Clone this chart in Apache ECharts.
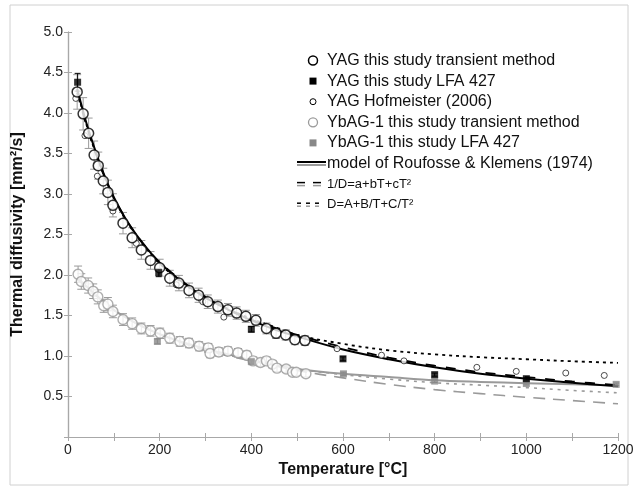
<!DOCTYPE html>
<html>
<head>
<meta charset="utf-8">
<script src="https://cdn.jsdelivr.net/npm/echarts@6/dist/echarts.min.js"></script>
<style>
  html, body { margin: 0; padding: 0; background: #fff; }
  #chart { width: 637px; height: 487px; }
</style>
</head>
<body>
<div id="chart"></div>
<script>
// measured points [T in °C, D in mm²/s]
const yagTransient = [[20,4.26],[33,3.99],[45,3.75],[57,3.48],[66,3.35],[77,3.16],[87,3.02],[98,2.86],[120,2.64],[140,2.46],[160,2.31],[180,2.18],[200,2.09],[222,1.96],[242,1.90],[264,1.81],[285,1.75],[305,1.67],[327,1.61],[349,1.57],[368,1.53],[388,1.49],[410,1.44],[433,1.34],[454,1.28],[475,1.26],[495,1.20],[517,1.19]];
const yagLfa = [[21,4.38],[198,2.03],[400,1.33],[600,0.965],[800,0.77],[1000,0.72]];
const yagHofmeister = [[17,4.18],[37,3.72],[64,3.22],[98,2.79],[149,2.39],[236,1.88],[294,1.67],[340,1.48],[587,1.09],[684,1.01],[733,0.94],[892,0.86],[978,0.81],[1086,0.79],[1170,0.76]];
const ybagTransient = [[22,2.01],[29,1.92],[44,1.87],[55,1.80],[65,1.73],[78,1.62],[87,1.64],[98,1.55],[120,1.45],[140,1.40],[160,1.34],[180,1.31],[201,1.28],[222,1.22],[244,1.18],[264,1.16],[286,1.12],[306,1.10],[310,1.03],[329,1.05],[349,1.06],[371,1.04],[390,1.01],[404,0.94],[420,0.92],[433,0.94],[446,0.90],[456,0.85],[476,0.84],[490,0.80],[498,0.80],[519,0.78]];
const ybagLfa = [[195,1.18],[400,0.93],[601,0.78],[800,0.69],[1000,0.66],[1196,0.65]];
const transientErr = 0.05;  // relative error of the transient method
const lfaErr = 0.025;

const fitT = [20,40,60,80,100,125,150,175,200,250,300,350,400,450,500,600,700,800,900,1000,1100,1200];
const modelYag = [4.30,3.88,3.53,3.22,2.96,2.70,2.49,2.31,2.15,1.91,1.72,1.57,1.44,1.33,1.24,1.08,0.96,0.86,0.78,0.72,0.67,0.625];
const quadYag  = [4.25,3.85,3.51,3.21,2.96,2.70,2.49,2.31,2.16,1.92,1.73,1.58,1.45,1.35,1.26,1.11,0.98,0.88,0.80,0.74,0.685,0.64];
const invYag   = [4.28,3.86,3.51,3.21,2.95,2.69,2.48,2.30,2.14,1.90,1.72,1.58,1.46,1.36,1.26,1.15,1.07,1.02,0.985,0.96,0.935,0.915];
const modelYbag = [1.97,1.86,1.76,1.66,1.57,1.48,1.40,1.33,1.27,1.17,1.09,1.02,0.95,0.89,0.84,0.78,0.74,0.70,0.68,0.665,0.65,0.64];
const quadYbag  = [1.95,1.85,1.75,1.66,1.57,1.48,1.40,1.33,1.27,1.16,1.07,1.00,0.94,0.88,0.82,0.73,0.65,0.585,0.535,0.49,0.45,0.41];
const invYbag   = [1.96,1.85,1.75,1.66,1.57,1.48,1.40,1.33,1.27,1.17,1.08,1.01,0.95,0.89,0.84,0.77,0.715,0.67,0.64,0.61,0.575,0.545];

const legendLabels = ['YAG this study transient method', 'YAG this study LFA 427', 'YAG Hofmeister (2006)',
  'YbAG-1 this study transient method', 'YbAG-1 this study LFA 427', 'model of Roufosse & Klemens (1974)',
  '1/D=a+bT+cT²', 'D=A+B/T+C/T²'];

const FONT = '"Liberation Sans", Arial, sans-serif';
const BLACK = '#000';
const GRAY = '#9a9a9a';

function pairs(ys) {
  return fitT.map(function (t, i) { return [t, ys[i]]; });
}

function withErr(pts, frac) {
  return pts.map(function (p) { return [p[0], p[1] * (1 - frac), p[1] * (1 + frac)]; });
}

function errorBars(color, cap) {
  return function (params, api) {
    const lo = api.coord([api.value(0), api.value(1)]);
    const hi = api.coord([api.value(0), api.value(2)]);
    const st = { stroke: color, lineWidth: 1 };
    return {
      type: 'group',
      children: [
        { type: 'line', shape: { x1: lo[0], y1: lo[1], x2: hi[0], y2: hi[1] }, style: st },
        { type: 'line', shape: { x1: lo[0] - cap, y1: lo[1], x2: lo[0] + cap, y2: lo[1] }, style: st },
        { type: 'line', shape: { x1: hi[0] - cap, y1: hi[1], x2: hi[0] + cap, y2: hi[1] }, style: st }
      ]
    };
  };
}

function fitLine(name, ys, color, width, type, z) {
  return {
    name: name, type: 'line', data: pairs(ys), smooth: 0.35, symbol: 'none', z: z,
    lineStyle: { color: color, width: width, type: type }
  };
}

// legend drawn by hand, the fit entries need the double line swatches
function buildLegend() {
  const els = [];
  const x0 = 327;
  legendLabels.forEach(function (label, i) {
    const y = 60.5 + i * 20.6;
    els.push({
      type: 'text', x: x0, y: y, z: 10,
      style: { text: label, fill: '#111', fontFamily: FONT, fontSize: i < 6 ? 16 : 13, verticalAlign: 'middle' }
    });
    if (i === 0) els.push({ type: 'circle', shape: { cx: 313, cy: y, r: 4.5 }, style: { fill: '#fff', stroke: BLACK, lineWidth: 1.5 } });
    if (i === 1) els.push({ type: 'rect', shape: { x: 309.5, y: y - 3.5, width: 7, height: 7 }, style: { fill: BLACK } });
    if (i === 2) els.push({ type: 'circle', shape: { cx: 313, cy: y, r: 3 }, style: { fill: '#fff', stroke: BLACK, lineWidth: 1 } });
    if (i === 3) els.push({ type: 'circle', shape: { cx: 313, cy: y, r: 4.5 }, style: { fill: '#fff', stroke: GRAY, lineWidth: 1.3 } });
    if (i === 4) els.push({ type: 'rect', shape: { x: 309.5, y: y - 3.5, width: 7, height: 7 }, style: { fill: '#888' } });
    let segs = null;
    if (i === 5) segs = [[297, 326]];
    if (i === 6) segs = [[297, 305], [313, 321]];
    if (i === 7) segs = [[297, 301], [306, 310], [315, 319]];
    if (segs) {
      segs.forEach(function (s) {
        els.push({ type: 'line', shape: { x1: s[0], y1: y - 1.5, x2: s[1], y2: y - 1.5 }, style: { stroke: BLACK, lineWidth: i === 5 ? 2 : 1.5 } });
        els.push({ type: 'line', shape: { x1: s[0], y1: y + 1.5, x2: s[1], y2: y + 1.5 }, style: { stroke: GRAY, lineWidth: i === 5 ? 2 : 1.5 } });
      });
    }
  });
  // outer figure frame
  els.push({ type: 'rect', z: -1, shape: { x: 10, y: 5, width: 618, height: 480 }, style: { fill: 'none', stroke: '#d0d0d0', lineWidth: 1 } });
  return els;
}

const chart = echarts.init(document.getElementById('chart'));

const axisLine = { show: true, lineStyle: { color: '#a8a8a8', width: 1.2 } };
const tick = { show: true, inside: true, length: 4, lineStyle: { color: '#a8a8a8' } };
const minor = { show: true, splitNumber: 2, length: 4, lineStyle: { color: '#a8a8a8' } };

const option = {
  backgroundColor: '#fff',
  animation: false,
  grid: { left: 68, right: 19, top: 32, bottom: 50 },
  xAxis: [{
    type: 'value', min: 0, max: 1200, interval: 200, position: 'bottom',
    name: 'Temperature [°C]', nameLocation: 'middle', nameGap: 24,
    nameTextStyle: { fontFamily: FONT, fontSize: 16, fontWeight: 'bold', color: '#111' },
    axisLine: axisLine, axisTick: tick, minorTick: minor, splitLine: { show: false },
    axisLabel: {
      fontFamily: FONT, fontSize: 14, color: '#222', margin: 6,
      formatter: function (v) { return String(v); }
    }
  }, {
    type: 'value', min: 0, max: 1200, interval: 200, position: 'top',
    axisLine: axisLine, axisTick: tick, minorTick: minor, splitLine: { show: false },
    axisLabel: { show: false }
  }],
  yAxis: [{
    type: 'value', min: 0, max: 5, interval: 0.5, position: 'left',
    name: 'Thermal diffusivity [mm²/s]', nameLocation: 'middle', nameGap: 42,
    nameTextStyle: { fontFamily: FONT, fontSize: 16, fontWeight: 'bold', color: '#111' },
    axisLine: axisLine, axisTick: tick, splitLine: { show: false },
    axisLabel: {
      fontFamily: FONT, fontSize: 14, color: '#222', margin: 5,
      formatter: function (v) { return v === 0 ? '' : v.toFixed(1); }
    }
  }, {
    type: 'value', min: 0, max: 5, interval: 0.5, position: 'right',
    axisLine: axisLine, axisTick: tick, splitLine: { show: false },
    axisLabel: { show: false }
  }],
  graphic: buildLegend(),
  series: [
    { type: 'custom', name: 'errYag', data: withErr(yagTransient, transientErr), renderItem: errorBars(GRAY, 4), encode: { x: 0, y: [1, 2] }, z: 1, silent: true },
    { type: 'custom', name: 'errYbag', data: withErr(ybagTransient, transientErr), renderItem: errorBars(GRAY, 4), encode: { x: 0, y: [1, 2] }, z: 1, silent: true },
    { type: 'custom', name: 'errYagLfa', data: withErr(yagLfa, lfaErr), renderItem: errorBars(BLACK, 3), encode: { x: 0, y: [1, 2] }, z: 1, silent: true },
    { type: 'custom', name: 'errYbagLfa', data: withErr(ybagLfa, lfaErr), renderItem: errorBars('#888', 3), encode: { x: 0, y: [1, 2] }, z: 1, silent: true },

    fitLine('model YbAG', modelYbag, GRAY, 2, 'solid', 2),
    fitLine('quad YbAG', quadYbag, GRAY, 1.6, [12, 8], 2),
    fitLine('inv YbAG', invYbag, GRAY, 1.6, [3, 5], 2),
    fitLine('model YAG', modelYag, BLACK, 2, 'solid', 3),
    fitLine('quad YAG', quadYag, BLACK, 1.8, [10, 10], 3),
    fitLine('inv YAG', invYag, BLACK, 1.8, [3, 4], 3),

    { name: legendLabels[2], type: 'scatter', data: yagHofmeister, symbol: 'circle', symbolSize: 6, z: 4,
      itemStyle: { color: '#fff', borderColor: '#222', borderWidth: 1 } },
    { name: legendLabels[3], type: 'scatter', data: ybagTransient, symbol: 'circle', symbolSize: 10, z: 5,
      itemStyle: { color: '#fff', borderColor: GRAY, borderWidth: 1.4 } },
    { name: legendLabels[4], type: 'scatter', data: ybagLfa, symbol: 'rect', symbolSize: 7, z: 6,
      itemStyle: { color: '#888' } },
    { name: legendLabels[0], type: 'scatter', data: yagTransient, symbol: 'circle', symbolSize: 10, z: 7,
      itemStyle: { color: '#fff', borderColor: BLACK, borderWidth: 1.5 } },
    { name: legendLabels[1], type: 'scatter', data: yagLfa, symbol: 'rect', symbolSize: 7, z: 8,
      itemStyle: { color: BLACK } }
  ]
};

chart.setOption(option);
</script>
</body>
</html>
